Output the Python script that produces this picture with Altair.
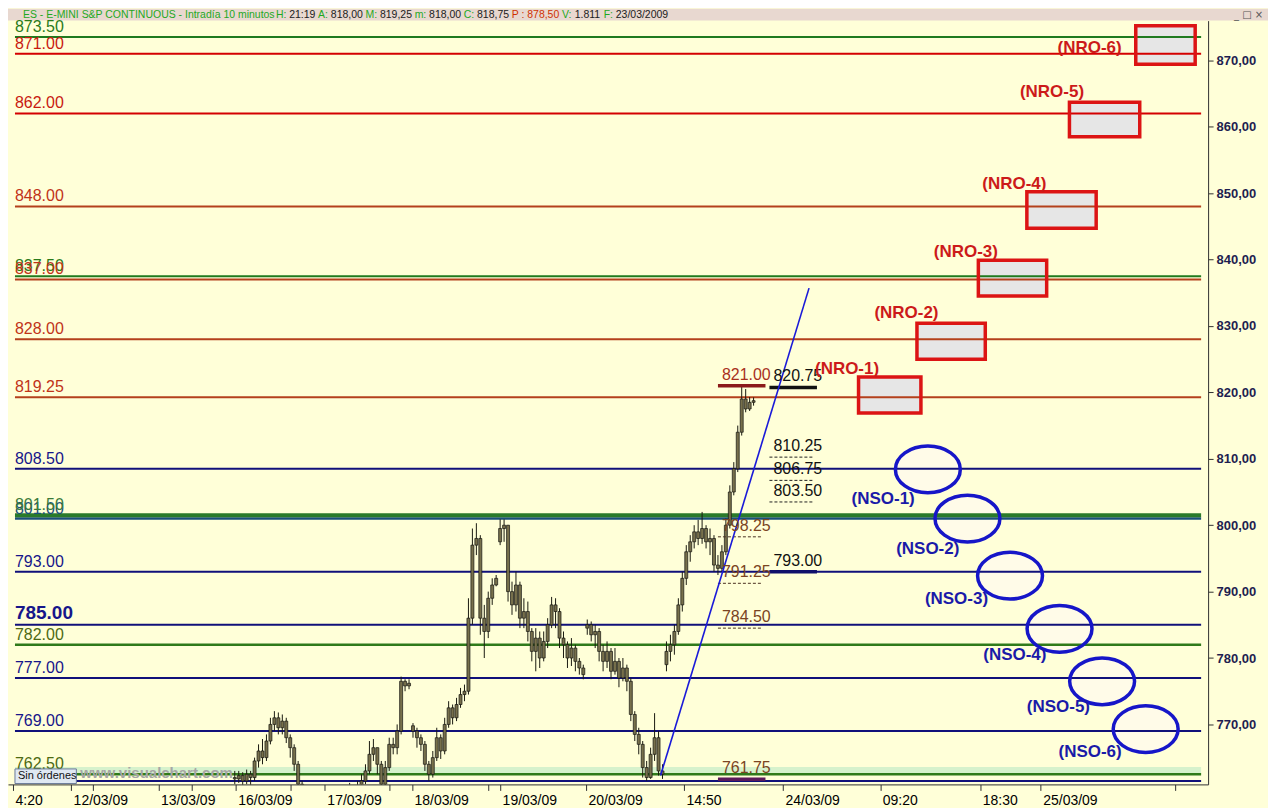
import altair as alt
import pandas as pd

# ---------------- data ----------------
candle_t = list(range(232, 760, 4))
closes = [761.8, 762.3, 761.5, 762.5, 762.0, 764.5, 766.0, 765.0, 767.5, 770.0,
          771.0, 769.5, 770.5, 768.0, 766.5, 764.0, 761.0, 759.5, 758.0, 757.0,
          756.5, 757.5, 756.0, 755.5, 757.0, 758.0, 757.0, 758.5, 759.0, 760.0,
          759.5, 760.5, 761.5, 763.0, 765.5, 766.5, 764.0, 761.0, 763.5, 767.0,
          766.5, 769.0, 776.5, 775.8, 776.2, 769.0, 768.0, 767.0, 764.0, 762.5,
          765.0, 768.0, 766.0, 770.0, 772.5, 771.0, 773.0, 774.5, 775.0, 786.0,
          797.0, 798.0, 786.0, 784.0, 789.0, 791.0, 792.0, 799.5, 800.0, 790.0,
          788.0, 791.0, 786.0, 787.0, 784.0, 781.0, 783.0, 780.0, 782.5, 785.0,
          788.0, 787.0, 783.0, 782.0, 780.0, 781.5, 779.5, 778.5, 777.5, 785.0,
          783.5, 784.0, 781.0, 779.5, 781.0, 778.0, 779.5, 777.0, 778.5, 776.5,
          771.5, 768.5, 767.0, 763.5, 762.0, 765.5, 768.0, 763.0, 762.5, 781.0,
          782.0, 784.0, 788.0, 792.0, 796.0, 797.5, 799.0, 798.0, 799.5, 797.5,
          798.0, 794.0, 793.5, 796.0, 800.0, 805.0, 808.5, 814.0, 819.0, 817.5,
          818.5, 818.75]
highs = [763.0, 763.0, 762.8, 763.2, 763.0, 765.0, 767.0, 767.8, 768.5, 771.0,
         772.0, 771.8, 771.5, 771.0, 768.5, 767.0, 764.5, 761.5, 760.0, 758.5,
         758.0, 758.5, 758.0, 756.5, 758.0, 759.0, 758.5, 759.5, 760.0, 761.2,
         760.8, 761.5, 762.5, 764.0, 767.5, 767.8, 766.5, 764.5, 764.5, 768.0,
         768.0, 770.0, 777.2, 776.8, 776.8, 770.2, 769.5, 768.5, 767.5, 764.5,
         766.0, 769.5, 768.5, 771.0, 773.5, 773.0, 774.0, 775.5, 776.0, 789.0,
         799.5, 800.3, 798.5, 788.0, 790.0, 792.0, 792.5, 800.9, 800.9, 800.0,
         791.5, 793.0, 791.5, 789.0, 788.5, 784.5, 784.5, 784.0, 784.0, 786.0,
         789.2, 789.0, 787.5, 784.0, 782.5, 783.0, 782.0, 780.0, 779.0, 785.8,
         785.5, 785.0, 784.5, 782.0, 782.5, 781.5, 781.5, 780.0, 780.0, 779.0,
         777.0, 772.0, 769.5, 767.5, 764.5, 766.5, 771.7, 769.0, 764.0, 782.5,
         783.5, 785.0, 789.0, 793.0, 797.0, 798.5, 800.0, 800.8, 802.0, 800.0,
         799.5, 798.5, 795.5, 797.0, 801.0, 806.0, 809.5, 815.0, 821.0, 820.5,
         819.3, 819.25]
lows = [761.0, 761.2, 760.8, 761.0, 760.0, 761.5, 763.5, 764.0, 764.5, 767.0,
        769.0, 768.5, 768.5, 767.2, 765.0, 763.0, 760.5, 758.5, 757.0, 756.0,
        755.5, 756.0, 755.0, 754.5, 755.0, 756.5, 756.0, 756.5, 758.0, 758.5,
        758.5, 759.0, 760.0, 761.0, 762.5, 764.5, 762.5, 760.5, 760.8, 763.0,
        765.5, 765.5, 768.5, 775.0, 775.3, 768.0, 766.5, 766.0, 763.0, 761.5,
        762.0, 764.5, 764.8, 765.5, 769.5, 770.0, 770.5, 772.5, 773.5, 774.5,
        785.0, 795.5, 783.5, 780.0, 783.0, 788.0, 790.8, 797.0, 797.5, 788.5,
        786.5, 787.0, 784.5, 784.5, 782.5, 779.5, 778.0, 778.5, 779.5, 781.5,
        784.5, 784.5, 781.5, 780.0, 778.5, 778.8, 778.0, 777.5, 776.8, 783.5,
        782.5, 781.5, 779.5, 778.0, 778.5, 776.8, 777.5, 775.6, 776.5, 775.0,
        770.5, 767.5, 765.5, 762.0, 761.5, 761.8, 764.5, 762.3, 761.8, 778.0,
        779.5, 780.5, 783.5, 787.0, 791.0, 794.5, 796.5, 797.0, 797.2, 796.5,
        795.5, 793.0, 792.5, 793.0, 795.5, 799.5, 804.5, 808.0, 813.5, 817.0,
        817.2, 818.0]
first_open = 762.0
session_opens = {412: 769.8, 500: 797.5, 588: 784.5, 668: 779.0}

level_values = [873.5, 871.0, 862.0, 848.0, 837.5, 837.0, 828.0, 819.25, 808.5,
                801.0, 801.5, 793.0, 785.0, 782.0, 777.0, 769.0, 762.5, 761.5]
level_kinds = ["green", "red", "red", "brown", "green", "brown", "brown", "brown", "navy",
               "teal", "greenthick", "navy", "navybig", "olive", "navy", "navy", "olive", "navy"]
level_texts = ["873.50", "871.00", "862.00", "848.00", "837.50", "837.00", "828.00", "819.25",
               "808.50", "801.00", "801.50", "793.00", "785.00", "782.00", "777.00", "769.00",
               "762.50", ""]

ann_values = [821.0, 820.75, 810.25, 806.75, 803.5, 798.25, 793.0, 791.25, 784.5, 761.75]
ann_texts = ["821.00", "820.75", "810.25", "806.75", "803.50", "798.25", "793.00", "791.25",
             "784.50", "761.75"]
ann_t0 = [720, 772, 772, 772, 772, 720, 772, 720, 720, 720]
ann_t1 = [768, 820, 817, 817, 817, 765, 820, 765, 765, 768]
ann_kinds = ["thickred", "thickblack", "dash", "dash", "dash", "dashbrown", "thicknavy",
             "dashbrown", "dashbrown", "thickpurple"]

trend_t = [662, 812]
trend_v = [762.3, 835.7]

nro_names = ["(NRO-1)", "(NRO-2)", "(NRO-3)", "(NRO-4)", "(NRO-5)", "(NRO-6)"]
nro_t0 = [862, 921, 983, 1032, 1075, 1142]
nro_t1 = [925, 990, 1052, 1102, 1146, 1202]
nro_lo = [816.9, 825.0, 834.5, 844.7, 858.5, 869.4]
nro_hi = [822.3, 830.4, 839.9, 850.2, 863.7, 875.2]
nro_label_t = [818, 878, 938, 987, 1025, 1063]
nro_label_v = [823.5, 832.0, 841.1, 851.4, 865.3, 871.9]

nso_names = ["(NSO-1)", "(NSO-2)", "(NSO-3)", "(NSO-4)", "(NSO-5)", "(NSO-6)"]
nso_t = [932, 972, 1015, 1065, 1108, 1152]
nso_v = [808.4, 801.0, 792.4, 784.4, 776.5, 769.3]
nso_label_t = [855, 900, 929, 988, 1032, 1064]
nso_label_v = [803.9, 796.4, 788.9, 780.4, 772.6, 765.9]

x_tick_values = [8, 66.7, 89, 155, 189, 233, 288, 323, 388, 411, 488, 500, 586.7, 685.7,
                 785.7, 884, 985, 1046, 1182]
x_tick_labels = ["4:20", "12/03/09", "", "13/03/09", "", "16/03/09", "", "17/03/09", "",
                 "18/03/09", "", "19/03/09", "20/03/09", "14:50", "24/03/09", "09:20", "18:30",
                 "25/03/09", ""]
y_tick_values = [770, 780, 790, 800, 810, 820, 830, 840, 850, 860, 870]

title_parts = ["ES - E-MINI S&P CONTINUOUS - Intradía 10 minutos ", "H: ", "21:19 ", "A: ",
               "818,00 ", "M: ", "819,25 ", "m: ", "818,00 ", "C: ", "818,75 ",
               "P : 878,50 ", "V: ", "1.811 ", "F: ", "23/03/2009"]
title_kinds = ["g", "g", "k", "g", "k", "g", "k", "g", "k", "g", "k", "r", "g", "k", "g", "k"]

# ---------------- styles ----------------
FONT = "Liberation Sans"
line_color = {"green": "#1f7a1f", "red": "#d40000", "brown": "#b4401c", "navy": "#10107a",
              "navybig": "#10107a", "teal": "#1a4f7a", "greenthick": "#2a7a2a", "olive": "#2f7a1a"}
label_color = {"green": "#2a7a1a", "red": "#c81a10", "brown": "#bf3318", "navy": "#16168a",
               "navybig": "#16168a", "teal": "#1a4f7a", "greenthick": "#3a7a3a", "olive": "#4d6a12"}
line_width = {"green": 2, "red": 2, "brown": 2, "navy": 2, "navybig": 2, "teal": 2.5,
              "greenthick": 4, "olive": 2.5}
ann_line_color = {"thickred": "#8b1a1a", "thickblack": "#111111", "dash": "#222222",
                  "dashbrown": "#4a3020", "thicknavy": "#10106a", "thickpurple": "#5a1a5a"}
ann_text_color = {"thickred": "#a8301c", "thickblack": "#111111", "dash": "#111111",
                  "dashbrown": "#7a4422", "thicknavy": "#111111", "thickpurple": "#7a4422"}
title_color = {"g": "#1fa81f", "k": "#202020", "r": "#d03000"}

# ---------------- tables ----------------
opens = []
prev = first_open
for t, c in zip(candle_t, closes):
    opens.append(session_opens.get(t, prev))
    prev = c
candles = pd.DataFrame({"t": candle_t, "open": opens, "close": closes, "high": highs, "low": lows})
candles["top"] = candles[["open", "close"]].max(axis=1)
candles["bot"] = candles[["open", "close"]].min(axis=1)

levels = pd.DataFrame({"v": level_values, "kind": level_kinds, "label": level_texts})
levels["t0"] = 10
levels["t1"] = 1208
levels["lc"] = levels["kind"].map(line_color)
levels["tc"] = levels["kind"].map(label_color)
levels["w"] = levels["kind"].map(line_width)

ann = pd.DataFrame({"v": ann_values, "label": ann_texts, "t0": ann_t0, "t1": ann_t1, "kind": ann_kinds})
ann["lc"] = ann["kind"].map(ann_line_color)
ann["tc"] = ann["kind"].map(ann_text_color)
ann["tt"] = ann["t0"] + 4
ann_dash = ann[ann["kind"].str.startswith("dash")]
ann_thick = ann[ann["kind"].str.startswith("thick")]

trend = pd.DataFrame({"t": trend_t, "v": trend_v})
nro = pd.DataFrame({"name": nro_names, "t0": nro_t0, "t1": nro_t1, "lo": nro_lo, "hi": nro_hi,
                    "lt": nro_label_t, "lv": nro_label_v})
nso = pd.DataFrame({"name": nso_names, "t": nso_t, "v": nso_v, "lt": nso_label_t, "lv": nso_label_v})

# title segment x positions from Arial metrics
aw = {' ': 278, '-': 333, '&': 667, ':': 278, ',': 278, '.': 278, '/': 278, 'E': 667, 'S': 667,
      'M': 833, 'I': 278, 'N': 722, 'P': 667, 'C': 722, 'O': 778, 'T': 611, 'U': 722, 'H': 722,
      'A': 667, 'V': 667, 'F': 611, 'n': 556, 't': 278, 'r': 333, 'a': 556, 'd': 556, 'í': 278,
      'm': 833, 'i': 222, 'u': 556, 'o': 556, 's': 500}
TFS = 10.5
pos = 18.0
seg_t = []
for s in title_parts:
    seg_t.append(pos)
    pos += sum(aw.get(ch, 556) for ch in s) / 1000 * TFS
title_df = pd.DataFrame({"t": seg_t, "text": title_parts,
                         "c": [title_color[k] for k in title_kinds]})

# ---------------- encodings ----------------
XS = alt.Scale(domain=[8, 1210], nice=False, zero=False)
YS = alt.Scale(domain=[760.97, 875.98], nice=False, zero=False)
label_expr = " : ".join(f"datum.value == {v} ? '{l}'" for v, l in zip(x_tick_values, x_tick_labels)) + " : ''"
x_axis = alt.Axis(values=x_tick_values, labelExpr=label_expr, title=None, grid=False,
                  labelAlign="left", labelOffset=2, tickSize=6, labelFontSize=14, labelFont=FONT,
                  labelColor="#000000", domainColor="#303030", tickColor="#303030",
                  labelPadding=3, labelFlush=False, labelOverlap=False, orient="bottom")
y_axis = alt.Axis(values=y_tick_values, orient="right", title=None, grid=False,
                  labelExpr="replace(format(datum.value, '.2f'), '.', ',')",
                  tickSize=5, labelFontSize=13, labelFontWeight="bold", labelColor="#1e1e50",
                  labelFont=FONT, domainColor="#303030", tickColor="#303030", labelPadding=3)


def X(f):
    return alt.X(f, type="quantitative", scale=XS, axis=x_axis)


def Y(f):
    return alt.Y(f, type="quantitative", scale=YS, axis=y_axis)


def C(f):
    return alt.Color(f, type="nominal", scale=None)


# ---------------- layers ----------------
band = alt.Chart(pd.DataFrame({"t0": [10], "t1": [1208], "a": [762.6], "b": [763.6]})).mark_rect(
    color="#d6f2cc").encode(x=X("t0"), x2="t1", y=Y("a"), y2="b")

nro_fill = alt.Chart(nro).mark_rect(color="#e6e6e6", clip=True).encode(
    x=X("t0"), x2="t1", y=Y("lo"), y2="hi")
ELLIPSE = "M-1,0A1,0.72,0,1,1,1,0A1,0.72,0,1,1,-1,0Z"
nso_fill = alt.Chart(nso).mark_point(shape=ELLIPSE, size=65 * 65, filled=True, color="#fffbe8",
                                     opacity=1, strokeWidth=0).encode(x=X("t"), y=Y("v"))

level_lines = alt.Chart(levels).mark_rule().encode(
    x=X("t0"), x2="t1", y=Y("v"), color=C("lc"),
    strokeWidth=alt.StrokeWidth("w:Q", scale=None))

wicks = alt.Chart(candles).mark_rule(color="#1a1a10", strokeWidth=1, clip=True).encode(
    x=X("t"), y=Y("low"), y2="high")
bodies = alt.Chart(candles).mark_bar(size=3, fill="#77704c", stroke="#141410", strokeWidth=0.7,
                                     clip=True).encode(x=X("t"), y=Y("bot"), y2="top")

ann_dash_l = alt.Chart(ann_dash).mark_rule(strokeDash=[3, 2], strokeWidth=1).encode(
    x=X("t0"), x2="t1", y=Y("v"), color=C("lc"))
ann_thick_l = alt.Chart(ann_thick).mark_rule(strokeWidth=3.5).encode(
    x=X("t0"), x2="t1", y=Y("v"), color=C("lc"))
ann_text = alt.Chart(ann).mark_text(align="left", baseline="bottom", dy=-3, fontSize=16,
                                    font=FONT).encode(x=X("tt"), y=Y("v"), text="label:N", color=C("tc"))

trend_l = alt.Chart(trend).mark_line(color="#1a1ad8", strokeWidth=1.6).encode(x=X("t"), y=Y("v"))

nro_stroke = alt.Chart(nro).mark_rect(fillOpacity=0, stroke="#dc1414", strokeWidth=3.5,
                                      clip=True).encode(x=X("t0"), x2="t1", y=Y("lo"), y2="hi")
nso_stroke = alt.Chart(nso).mark_point(shape=ELLIPSE, size=65 * 65, filled=False, color="#1616c8",
                                       opacity=1, strokeWidth=3.5).encode(x=X("t"), y=Y("v"))

nro_text = alt.Chart(nro).mark_text(align="left", baseline="middle", fontSize=17, fontWeight="bold",
                                    font=FONT, color="#cc1a1a").encode(x=X("lt"), y=Y("lv"), text="name:N")
nso_text = alt.Chart(nso).mark_text(align="left", baseline="middle", fontSize=17, fontWeight="bold",
                                    font=FONT, color="#1a1aa8").encode(x=X("lt"), y=Y("lv"), text="name:N")

title_bar = alt.Chart(pd.DataFrame({"a": [0]})).mark_rect(color="#e8d8d0").encode(
    x=alt.value(0), x2=alt.value(1262), y=alt.value(-12), y2=alt.value(0))
title_text = alt.Chart(title_df).mark_text(align="left", baseline="middle", fontSize=TFS,
                                           font=FONT).encode(
    x=X("t"), y=alt.value(-6), text="text:N", color=C("c"))
win_btn = alt.Chart(pd.DataFrame({"a": [0]})).mark_text(
    align="left", baseline="middle", fontSize=10, font="DejaVu Sans", color="#555555",
    text="_ □ ×").encode(x=alt.value(1228), y=alt.value(-6))

level_text = alt.Chart(levels[(levels["label"] != "") & (levels["kind"] != "navybig")]).mark_text(
    align="left", baseline="bottom", dy=-2, fontSize=16, font=FONT).encode(
    x=X("t0"), y=Y("v"), text="label:N", color=C("tc"))
level_text_big = alt.Chart(levels[levels["kind"] == "navybig"]).mark_text(
    align="left", baseline="bottom", dy=-2, fontSize=19, fontWeight="bold", font=FONT).encode(
    x=X("t0"), y=Y("v"), text="label:N", color=C("tc"))

sin_box = alt.Chart(pd.DataFrame({"t0": [10], "t1": [72], "a": [761.1], "b": [763.3]})).mark_rect(
    fill="#dfe8f2", stroke="#6a7a9a", strokeWidth=1).encode(x=X("t0"), x2="t1", y=Y("a"), y2="b")
sin_text = alt.Chart(pd.DataFrame({"t": [13], "v": [762.2], "s": ["Sin órdenes"]})).mark_text(
    align="left", baseline="middle", fontSize=11, font=FONT, color="#111111").encode(
    x=X("t"), y=Y("v"), text="s:N")
watermark = alt.Chart(pd.DataFrame({"t": [76], "v": [762.7], "s": ["www.visualchart.com"]})).mark_text(
    align="left", baseline="middle", fontSize=15, fontWeight="bold", font=FONT,
    color="#a6a6a6").encode(x=X("t"), y=Y("v"), text="s:N")

chart = alt.layer(
    band, nro_fill, nso_fill, level_lines, wicks, bodies, ann_dash_l, ann_thick_l, trend_l,
    nro_stroke, nso_stroke, title_bar, title_text, win_btn, level_text, level_text_big,
    ann_text, nro_text, nso_text, sin_box, sin_text, watermark
).properties(width=1202, height=765, padding=0).configure(
    background="#ffffd8"
).configure_view(stroke=None, fill="#ffffd8")

chart.save("out.html", embed_options={"renderer": "svg", "actions": False})
